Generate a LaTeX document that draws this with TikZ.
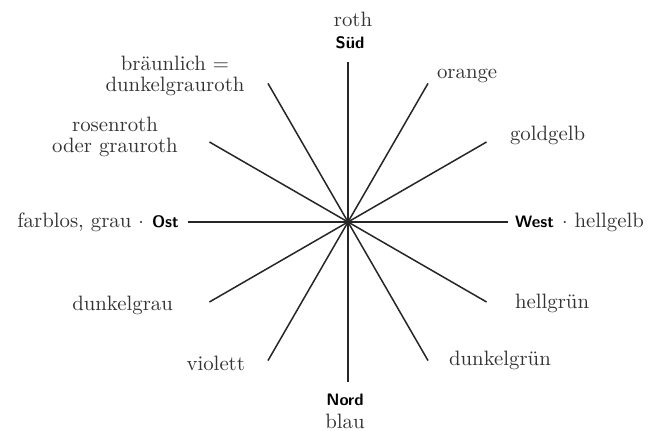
\documentclass[tikz,border=0pt]{standalone}
\usepackage{fontspec}
\usetikzlibrary{positioning}
\begin{document}
\begin{tikzpicture}[x=1pt, y=1pt, font=\fontsize{10.4}{10.5}\selectfont,
		every node/.style={text=black!80},
		dir/.style={font=\fontsize{8.3}{10}\selectfont\sffamily\bfseries, text=black},
		ray/.style={line width=.75pt, black!85}]
			\useasboundingbox (-174,-104.5) rectangle (150,111);
			\coordinate (O) at (0,0);
			\foreach \a in {0,30,...,330} {
				\coordinate (E\a) at (\a:80);
				\draw[ray] (O) -- (E\a);
			}
			\node (roth) at (2.5,101.5) {roth};
			\node[dir] (sued) at (1,89.5) {Süd};
			\node[anchor=west] (orange) at (41,73) {orange};
			\node[anchor=west] (goldgelb) at (77.5,43.5) {goldgelb};
			\node[dir, anchor=west] (west) at (80,0) {West};
			\node[right=-3pt of west] (hellgelb) {$\cdot$\ hellgelb};
			\node[anchor=west] (hellgruen) at (80,-40.5) {hellgrün};
			\node[anchor=west] (dunkelgruen) at (47,-69) {dunkelgrün};
			\node[dir] (nord) at (-1.5,-89) {Nord};
			\node (blau) at (-1.5,-99.5) {blau};
			\node[anchor=east] (violett) at (-48,-70.5) {violett};
			\node[anchor=east] (dunkelgrau) at (-84,-41.5) {dunkelgrau};
			\node[dir, anchor=east] (ost) at (-81,0) {Ost};
			\node[left=-3pt of ost] (farblos) {farblos, grau\ $\cdot$};
			\node[align=center] (rosenroth) at (-116.5,42.75) {rosenroth\\oder grauroth};
			\node[align=center] (braeunlich) at (-86.5,73.25) {bräunlich =\\dunkelgrauroth};
		\end{tikzpicture}
\end{document}
